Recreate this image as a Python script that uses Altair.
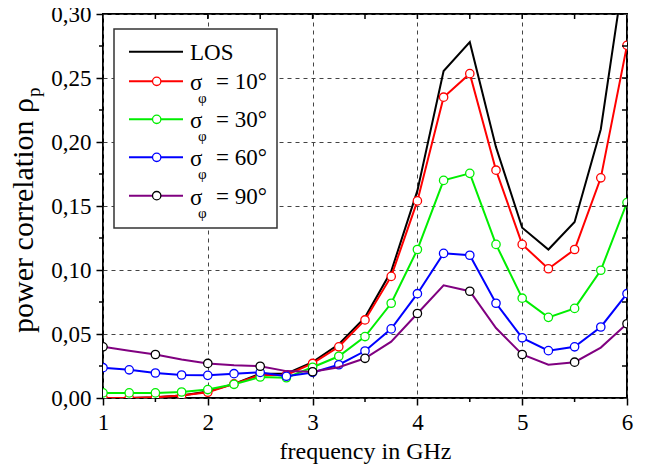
import altair as alt
import pandas as pd

FONT = "Liberation Serif"

freq = [1.0, 1.25, 1.5, 1.75, 2.0, 2.25, 2.5, 2.75, 3.0, 3.25, 3.5, 3.75,
        4.0, 4.25, 4.5, 4.75, 5.0, 5.25, 5.5, 5.75, 6.0]
los = [0.0, 0.0, 0.0005, 0.002, 0.005, 0.011, 0.019, 0.019, 0.028, 0.042, 0.063, 0.099,
       0.162, 0.2555, 0.278, 0.196, 0.133, 0.116, 0.1375, 0.21, 0.348]
s10 = [0.0, 0.0, 0.0005, 0.002, 0.0045, 0.011, 0.018, 0.018, 0.027, 0.040, 0.061, 0.095,
       0.154, 0.235, 0.2534, 0.178, 0.120, 0.101, 0.116, 0.172, 0.2755]
s30 = [0.004, 0.004, 0.004, 0.0047, 0.0066, 0.0107, 0.0164, 0.0158, 0.024, 0.0326, 0.048, 0.074,
       0.116, 0.170, 0.1755, 0.120, 0.078, 0.063, 0.070, 0.0998, 0.1527]
s60 = [0.0237, 0.022, 0.0195, 0.018, 0.0177, 0.019, 0.020, 0.017, 0.020, 0.026, 0.0367, 0.054,
       0.0815, 0.113, 0.1115, 0.074, 0.047, 0.037, 0.040, 0.0555, 0.0815]
s90 = [0.040, 0.037, 0.034, 0.030, 0.027, 0.0255, 0.0248, 0.021, 0.0205, 0.024, 0.031, 0.044,
       0.066, 0.088, 0.0834, 0.0547, 0.034, 0.026, 0.028, 0.0394, 0.058]

x_major = [1, 2, 3, 4, 5, 6]
x_minor = [1.5, 2.5, 3.5, 4.5, 5.5]
x_top = [1.5, 2, 2.5, 3, 3.5, 4, 4.5, 5, 5.5]
y_major = [0.0, 0.05, 0.10, 0.15, 0.20, 0.25, 0.30]
y_minor = [0.025, 0.075, 0.125, 0.175, 0.225, 0.275]
y_right = [0.025, 0.05, 0.075, 0.10, 0.125, 0.15, 0.175, 0.20, 0.225, 0.25, 0.275]

series = [
    ("LOS", los, "#000000", None, False),
    ("10", s10, "#ff0000", "#ff0000", False),
    ("30", s30, "#00ee00", "#00ee00", False),
    ("60", s60, "#0000ff", "#0000ff", False),
    ("90", s90, "#800080", "#000000", True),
]

W, H = 524, 384
xscale = alt.Scale(domain=[1, 6], nice=False, zero=False)
yscale = alt.Scale(domain=[0, 0.30], nice=False, zero=False)

x_axis = alt.Axis(values=x_major, format="d", title="frequency in GHz", grid=True,
                  gridDash=[4, 4], gridColor="#444", gridWidth=1, tickSize=7, tickWidth=1.5,
                  tickColor="black", domain=False, labelFont=FONT, labelFontSize=23,
                  labelColor="black", labelPadding=6, labelFlush=False, titleFont=FONT,
                  titleFontSize=24, titleFontWeight="normal", titleColor="black",
                  titlePadding=5)
y_axis = alt.Axis(values=y_major, labelExpr="replace(format(datum.value, '.2f'), '.', ',')",
                  title="", grid=True, gridDash=[4, 4], gridColor="#444", gridWidth=1,
                  tickSize=7, tickWidth=1.5, tickColor="black", domain=False, labelFont=FONT,
                  labelFontSize=23, labelColor="black", labelPadding=5, labelFlush=False)

X = lambda f: alt.X(f, scale=xscale, axis=x_axis)
Y = lambda f: alt.Y(f, scale=yscale, axis=y_axis)

layers = []
for name, vals, color, mcol, half in series:
    df = pd.DataFrame({"freq": freq, "value": vals})
    line = alt.Chart(df).mark_line(color=color, strokeWidth=2, clip=True).encode(
        x=X("freq:Q"), y=Y("value:Q"))
    layers.append(line)
    if mcol is not None:
        pts = alt.Chart(df).mark_point(shape="circle", fill="white", fillOpacity=1, stroke=mcol,
                                       strokeWidth=1.3, size=70, opacity=1, clip=True).encode(
            x=X("freq:Q"), y=Y("value:Q"))
        if half:
            pts = pts.transform_filter("datum.freq * 2 == floor(datum.freq * 2)")
        layers.append(pts)


def xticks(vals, y0, y1):
    return alt.Chart(pd.DataFrame({"freq": vals})).mark_rule(color="black", strokeWidth=1.5).encode(
        x=X("freq:Q"), y=alt.value(y0), y2=alt.value(y1))


def yticks(vals, x0, x1):
    return alt.Chart(pd.DataFrame({"value": vals})).mark_rule(color="black", strokeWidth=1.5).encode(
        y=Y("value:Q"), x=alt.value(x0), x2=alt.value(x1))


layers.append(xticks(x_minor, H, H + 4))
layers.append(xticks(x_top, 0, 5))
layers.append(yticks(y_minor, 0, -4))
layers.append(yticks(y_right, W, W - 5))

one = pd.DataFrame({"k": [0]})

# legend box
layers.append(alt.Chart(one).mark_rect(fill="white", stroke="#333", strokeWidth=1.5).encode(
    x=alt.value(11), x2=alt.value(174), y=alt.value(15), y2=alt.value(214)))

rows = [37.7, 67.3, 105.3, 143.3, 181.7]
labels = ["LOS", "10", "30", "60", "90"]
for (name, vals, color, mcol, half), ry, lab in zip(series, rows, labels):
    layers.append(alt.Chart(one).mark_rule(color=color, strokeWidth=2).encode(
        x=alt.value(26), x2=alt.value(80), y=alt.value(ry)))
    if mcol is not None:
        layers.append(alt.Chart(one).mark_point(shape="circle", fill="white", fillOpacity=1,
                                                stroke=mcol, strokeWidth=1.3, size=70,
                                                opacity=1).encode(
            x=alt.value(53.7), y=alt.value(ry)))
    if lab == "LOS":
        layers.append(alt.Chart(one).mark_text(font=FONT, fontSize=23, align="left",
                                               baseline="middle", color="black").encode(
            x=alt.value(87), y=alt.value(ry + 1), text=alt.value("LOS")))
    else:
        layers.append(alt.Chart(one).mark_text(font=FONT, fontSize=23, align="left",
                                               baseline="middle", color="black").encode(
            x=alt.value(87), y=alt.value(ry + 2), text=alt.value("σ")))
        layers.append(alt.Chart(one).mark_text(font=FONT, fontSize=15, align="left",
                                               baseline="middle", color="black").encode(
            x=alt.value(95), y=alt.value(ry + 17), text=alt.value("φ")))
        layers.append(alt.Chart(one).mark_text(font=FONT, fontSize=23, align="left",
                                               baseline="middle", color="black").encode(
            x=alt.value(113), y=alt.value(ry + 1), text=alt.value("= " + lab + "°")))

# y-axis title with subscript
layers.append(alt.Chart(one).mark_text(font=FONT, fontSize=30, angle=270, align="right",
                                       baseline="alphabetic", color="black").encode(
    x=alt.value(-70), y=alt.value(84), text=alt.value("power correlation ρ")))
layers.append(alt.Chart(one).mark_text(font=FONT, fontSize=19, angle=270, align="left",
                                       baseline="alphabetic", color="black").encode(
    x=alt.value(-63), y=alt.value(83), text=alt.value("p")))

chart = alt.layer(*layers).properties(
    width=W, height=H,
    padding={"left": 95, "top": 6, "right": 13, "bottom": 66},
    autosize=alt.AutoSizeParams(type="none"),
).configure_view(stroke="black", strokeWidth=2)

chart.save("out.html", embed_options={"renderer": "svg", "actions": False})
